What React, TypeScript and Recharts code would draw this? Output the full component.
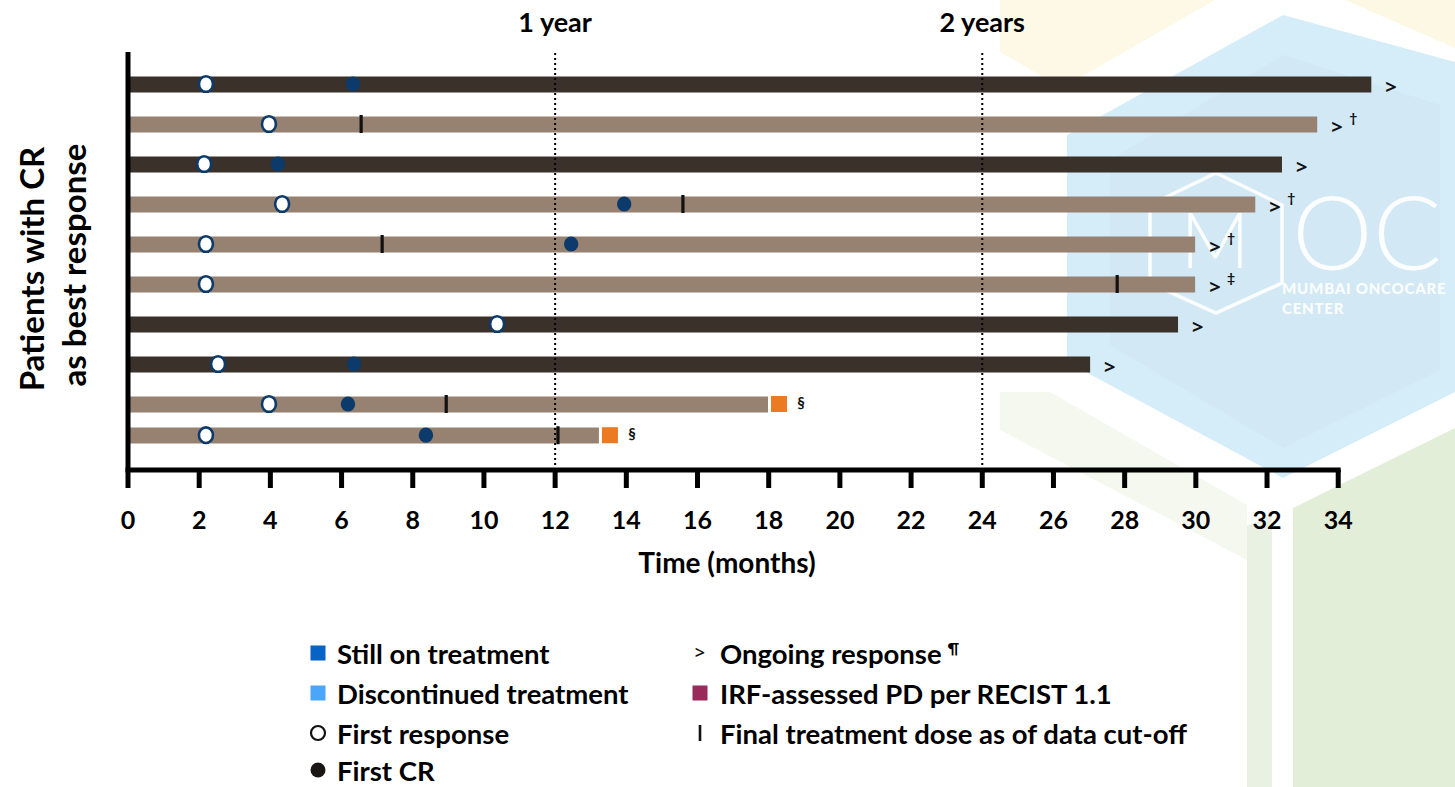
import React from 'react';
import { ComposedChart, Bar, Scatter, XAxis, YAxis, ReferenceLine, Cell } from 'recharts';

const FONT = 'Lato, "Open Sans", sans-serif';
const SYMBOL_FONT = '"Open Sans", "DejaVu Sans", sans-serif';

// ---- data ----
const patientIds = ['P01', 'P02', 'P03', 'P04', 'P05', 'P06', 'P07', 'P08', 'P09', 'P10'];
// vertical slot of each patient row (last row sits a little closer)
const rowSlots = [1, 2, 3, 4, 5, 6, 7, 8, 9, 9.78];
const durationMonths = [34.93, 33.41, 32.42, 31.67, 29.98, 29.98, 29.5, 27.03, 17.98, 13.23];
const stillOnTreatment = [true, false, true, false, false, false, true, true, false, false];
const firstResponseMonth = [2.19, 3.96, 2.14, 4.33, 2.19, 2.19, 10.37, 2.53, 3.96, 2.19];
const firstCRMonth = [6.32, null, 4.21, 13.94, 12.45, null, null, 6.35, 6.18, 8.37];
const finalDoseMonth = [null, 6.55, null, 15.59, 7.14, 27.79, null, null, 8.94, 12.08];
const progressionMonth = [null, null, null, null, null, null, null, null, 18.29, 13.54];
const ongoingResponse = [true, true, true, true, true, true, true, true, false, false];
const footnotes = ['', '†', '', '†', '†', '‡', '', '', '§', '§'];
const timeTicks = [0, 2, 4, 6, 8, 10, 12, 14, 16, 18, 20, 22, 24, 26, 28, 30, 32, 34];
const milestoneMonths = [12, 24];
const milestoneLabels = ['1 year', '2 years'];

const DARK = '#3b312b';
const LIGHT = '#978272';
const NAVY = '#0c3a6b';
const ORANGE = '#ec7a22';

const rows = patientIds.map((id, i) => ({
  id,
  slot: rowSlots[i],
  span: [0, durationMonths[i]],
  onTreatment: stillOnTreatment[i],
}));

const pick = (vals: (number | null)[]) =>
  vals.flatMap((v, i) => (v == null ? [] : [{ x: v, slot: rowSlots[i] }]));

const responsePoints = pick(firstResponseMonth);
const crPoints = pick(firstCRMonth);
const dosePoints = pick(finalDoseMonth);
const pdPoints = pick(progressionMonth);
const notePoints = patientIds.map((_, i) => ({
  x: ongoingResponse[i] ? durationMonths[i] : (progressionMonth[i] as number),
  slot: rowSlots[i],
  ongoing: ongoingResponse[i],
  note: footnotes[i],
}));

const OpenMarker = (p: any) => (
  <ellipse cx={p.cx} cy={p.cy} rx={7} ry={7.8} fill="#fff" stroke={NAVY} strokeWidth={2.6} />
);
const CRMarker = (p: any) => <ellipse cx={p.cx} cy={p.cy} rx={7.2} ry={7.6} fill={NAVY} />;
const DoseMarker = (p: any) => <rect x={p.cx - 1.6} y={p.cy - 9} width={3.2} height={18} fill="#111" />;
const PDMarker = (p: any) => <rect x={p.cx - 8} y={p.cy - 8} width={16} height={16} fill={ORANGE} />;
const NoteMarker = (p: any) => {
  const { cx, cy, payload } = p;
  if (payload.ongoing) {
    return (
      <g fontWeight={700} fill="#111">
        <text x={cx + 14} y={cy + 10} fontSize={20} fontFamily={SYMBOL_FONT}>{'>'}</text>
        {payload.note ? (
          <text x={cx + 36} y={cy - 1} fontSize={14} fontFamily={FONT} textAnchor="middle">{payload.note}</text>
        ) : null}
      </g>
    );
  }
  return (
    <text x={cx + 22} y={cy + 4} fontSize={15} fontWeight={700} fontFamily={FONT} textAnchor="middle" fill="#111">
      {payload.note}
    </text>
  );
};

const Backdrop = () => (
  <svg width={1455} height={787} style={{ position: 'absolute', left: 0, top: 0 }}>
    <polygon points="1000,0 1215,0 1062,88 1000,52" fill="#fdf9e6" />
    <polygon points="1345,0 1455,0 1455,48" fill="#fdf8e4" />
    <polygon points="1000,392 1050,392 1247,505 1247,560 1000,430" fill="#f4f8ef" />
    <polygon points="1293,508 1455,428 1455,787 1293,787" fill="#e3eed9" />
    <polygon points="1247,526 1272,515 1272,787 1247,787" fill="#e9f2e2" />
    <polygon points="1067,135 1283,15 1455,62 1455,392 1283,478 1067,362" fill="#d5edf8" />
    <polygon points="1110,160 1283,55 1440,105 1440,370 1283,448 1110,345" fill="#cce3ef" opacity={0.4} />
    <polygon
      points="1216,173 1282,205 1282,283 1216,313 1150,283 1150,205"
      fill="none"
      stroke="#fff"
      strokeWidth={3.5}
      opacity={0.9}
    />
    <g fill="#fff" opacity={0.92} fontFamily="Lato, sans-serif">
      <text x={1215} y={268} fontSize={76} fontWeight={300} textAnchor="middle">M</text>
      <text x={1292} y={270} fontSize={102} fontWeight={300}>OC</text>
      <text x={1282} y={294} fontSize={15} fontWeight={900} letterSpacing={0.8}>MUMBAI ONCOCARE</text>
      <text x={1282} y={314} fontSize={15} fontWeight={900} letterSpacing={0.8}>CENTER</text>
    </g>
  </svg>
);

const legendLeft = [
  { kind: 'square', color: '#0863c6', label: 'Still on treatment' },
  { kind: 'square', color: '#4aa6fa', label: 'Discontinued treatment' },
  { kind: 'open', color: '#111', label: 'First response' },
  { kind: 'dot', color: '#1b1717', label: 'First CR' },
];
const legendRight = [
  { kind: 'chevron', color: '#111', label: 'Ongoing response', sup: '¶' },
  { kind: 'square', color: '#9a2a5c', label: 'IRF-assessed PD per RECIST 1.1' },
  { kind: 'bar', color: '#111', label: 'Final treatment dose as of data cut-off' },
];
const legendBaselines = [664, 704, 744, 781];

const LegendIcon = ({ kind, color, cx, cy }: any) => {
  if (kind === 'square') return <rect x={cx - 7.5} y={cy - 7.5} width={15} height={15} fill={color} />;
  if (kind === 'open') return <circle cx={cx} cy={cy} r={7} fill="#fff" stroke={color} strokeWidth={2.2} />;
  if (kind === 'dot') return <circle cx={cx} cy={cy} r={7.5} fill={color} />;
  if (kind === 'chevron')
    return (
      <text x={cx} y={cy + 6} fontSize={18} fontWeight={600} fontFamily={SYMBOL_FONT} textAnchor="middle" fill={color}>
        {'>'}
      </text>
    );
  return <rect x={cx - 1.3} y={cy - 8} width={2.6} height={16} fill={color} />;
};

const Annotations = () => (
  <svg width={1455} height={787} style={{ position: 'absolute', left: 0, top: 0 }} fontFamily={FONT}>
    <g fontWeight={700} fill="#000" fontSize={33} textAnchor="middle">
      <text x={44} y={269} transform="rotate(-90 44 269)">Patients with CR</text>
      <text x={86} y={265} transform="rotate(-90 86 265)">as best response</text>
    </g>
    <text x={727} y={573} fontSize={28} fontWeight={700} textAnchor="middle" fill="#000">
      Time (months)
    </text>
    <g fontWeight={700} fontSize={27.5} fill="#000">
      {legendLeft.map((it, i) => (
        <g key={it.label}>
          <LegendIcon kind={it.kind} color={it.color} cx={318} cy={legendBaselines[i] - 11} />
          <text x={337} y={legendBaselines[i]}>{it.label}</text>
        </g>
      ))}
      {legendRight.map((it, i) => (
        <g key={it.label}>
          <LegendIcon kind={it.kind} color={it.color} cx={700} cy={legendBaselines[i] - 11} />
          <text x={720} y={legendBaselines[i]}>
            {it.label}
            {it.sup ? (
              <tspan fontSize={16} dx={6} dy={-10}>
                {it.sup}
              </tspan>
            ) : null}
          </text>
        </g>
      ))}
    </g>
  </svg>
);

export default function App() {
  return (
    <div style={{ position: 'absolute', left: 0, top: 0, width: 1455, height: 787, background: '#fff', overflow: 'hidden' }}>
      <Backdrop />
      <div style={{ position: 'absolute', left: 0, top: 0 }}>
        <ComposedChart
          width={1455}
          height={787}
          layout="vertical"
          data={rows}
          margin={{ top: 52, right: 10, bottom: 237, left: 128 }}
        >
          <XAxis
            type="number"
            domain={[0, 37]}
            ticks={timeTicks}
            interval={0}
            allowDataOverflow
            axisLine={false}
            tickLine={{ stroke: '#000', strokeWidth: 5 }}
            tickSize={18}
            tickMargin={23}
            height={80}
            tick={{ fill: '#000', fontSize: 25, fontWeight: 700, fontFamily: FONT }}
          />
          <YAxis type="number" dataKey="slot" domain={[0.2, 10.65]} hide allowDataOverflow />
          {milestoneMonths.map((m, i) => (
            <ReferenceLine
              key={m}
              x={m}
              stroke="#000"
              strokeWidth={2}
              strokeDasharray="2 3"
              label={{
                value: milestoneLabels[i],
                position: 'top',
                offset: 20,
                fill: '#000',
                fontSize: 27,
                fontWeight: 700,
                fontFamily: FONT,
              }}
            />
          ))}
          <Bar dataKey="span" barSize={16} isAnimationActive={false}>
            {rows.map((r) => (
              <Cell key={r.id} fill={r.onTreatment ? DARK : LIGHT} />
            ))}
          </Bar>
          <ReferenceLine x={0} stroke="#000" strokeWidth={5} ifOverflow="visible" />
          <ReferenceLine
            segment={[
              { x: -0.07, y: 10.65 },
              { x: 34.07, y: 10.65 },
            ]}
            stroke="#000"
            strokeWidth={5}
            ifOverflow="visible"
          />
          <Scatter data={dosePoints} dataKey="x" shape={DoseMarker} isAnimationActive={false} />
          <Scatter data={responsePoints} dataKey="x" shape={OpenMarker} isAnimationActive={false} />
          <Scatter data={crPoints} dataKey="x" shape={CRMarker} isAnimationActive={false} />
          <Scatter data={pdPoints} dataKey="x" shape={PDMarker} isAnimationActive={false} />
          <Scatter data={notePoints} dataKey="x" shape={NoteMarker} isAnimationActive={false} />
        </ComposedChart>
      </div>
      <Annotations />
    </div>
  );
}
